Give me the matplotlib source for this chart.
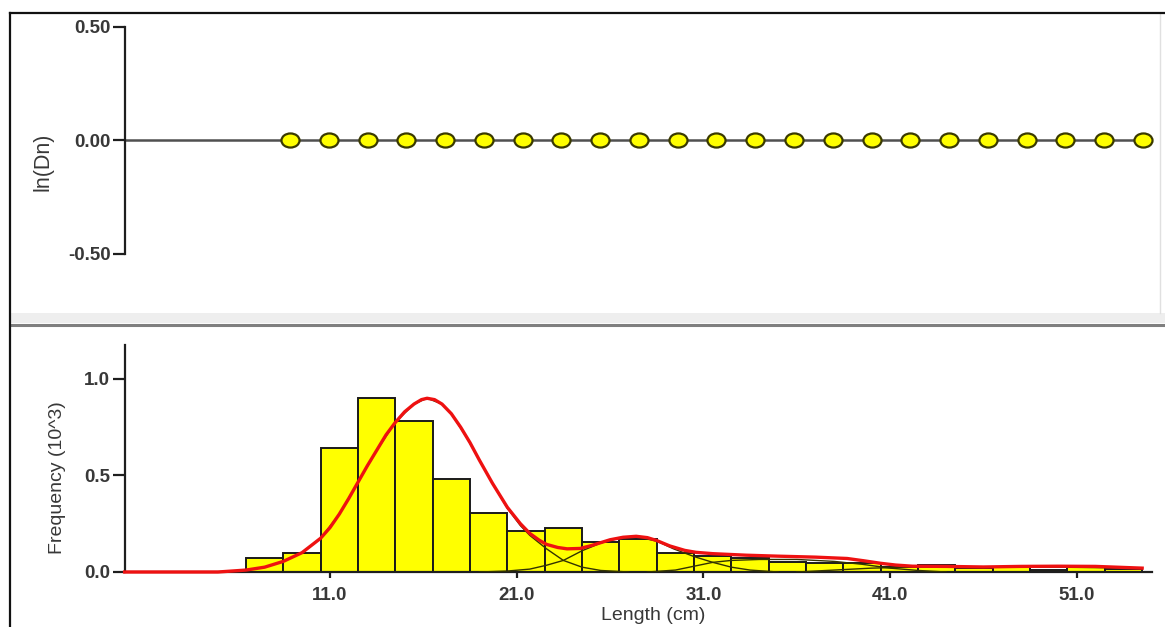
import numpy as np
import matplotlib
matplotlib.use("Agg")
import matplotlib.pyplot as plt
from matplotlib.lines import Line2D
from matplotlib.path import Path
from matplotlib.patches import Rectangle

plt.rcParams['font.family'] = ['Liberation Sans', 'DejaVu Sans']

# ---------------- data ----------------
# histogram: length class mid-points (cm) and frequency (10^3)
length_mid = [7.5, 9.5, 11.5, 13.5, 15.5, 17.5, 19.5, 21.5, 23.5, 25.5, 27.5, 29.5,
              31.5, 33.5, 35.5, 37.5, 39.5, 41.5, 43.5, 45.5, 47.5, 49.5, 51.5, 53.5]
freq = [0.073, 0.10, 0.64, 0.90, 0.78, 0.48, 0.305, 0.21, 0.23, 0.155, 0.17, 0.10,
        0.085, 0.07, 0.05, 0.045, 0.045, 0.025, 0.035, 0.02, 0.025, 0.01, 0.025, 0.015]

# fitted total curve (red)
fit_len = [0.0, 5.0, 6.5, 7.5, 8.5, 9.5, 10.5, 11.0, 11.5, 12.0, 12.5, 13.0, 13.5, 14.0,
           14.5, 15.0, 15.5, 15.9, 16.2, 16.6, 17.0, 17.5, 18.0, 18.5, 19.0, 19.7, 20.5,
           21.2, 21.7, 22.2, 22.6, 23.2, 23.7, 24.4, 25.0, 25.5, 26.0, 26.7, 27.4, 28.0,
           28.5, 29.2, 30.0, 30.6, 31.5, 33.3, 35.0, 37.0, 38.7, 39.6, 40.5, 41.3, 42.2,
           44.0, 46.0, 48.0, 50.0, 52.0, 54.5]
fit_total = [0.0, 0.0, 0.01, 0.025, 0.055, 0.10, 0.175, 0.23, 0.30, 0.38, 0.465, 0.55,
             0.63, 0.71, 0.775, 0.83, 0.87, 0.893, 0.90, 0.893, 0.87, 0.82, 0.75, 0.67,
             0.58, 0.46, 0.335, 0.25, 0.20, 0.165, 0.143, 0.127, 0.12, 0.122, 0.137, 0.152,
             0.167, 0.18, 0.185, 0.178, 0.163, 0.135, 0.112, 0.102, 0.095, 0.087, 0.082,
             0.077, 0.07, 0.058, 0.045, 0.036, 0.03, 0.029, 0.026, 0.029, 0.03, 0.029,
             0.02]

# individual components (thin black)
comp1_len = [5.0, 6.5, 7.5, 8.5, 9.5, 10.5, 11.5, 12.5, 13.5, 14.5, 15.5, 16.2, 17.0, 17.5,
             18.3, 19.0, 19.7, 20.5, 21.2, 21.7, 22.6, 23.5, 24.5, 25.5, 27.0]
comp1_val = [0.0, 0.01, 0.025, 0.055, 0.10, 0.175, 0.30, 0.465, 0.63, 0.775, 0.87, 0.90,
             0.87, 0.82, 0.70, 0.58, 0.46, 0.33, 0.24, 0.19, 0.12, 0.06, 0.025, 0.008, 0.0]
comp2_len = [19.0, 20.5, 21.7, 22.6, 23.5, 24.5, 25.5, 26.5, 27.4, 28.5, 29.4, 30.5, 31.5,
             32.5, 33.5, 35.0]
comp2_val = [0.0, 0.005, 0.015, 0.035, 0.06, 0.11, 0.15, 0.175, 0.183, 0.16, 0.12, 0.08,
             0.05, 0.025, 0.01, 0.0]
comp3_len = [28.0, 29.5, 30.5, 31.5, 32.5, 34.0, 36.0, 38.0, 39.5, 41.0, 42.5, 44.0]
comp3_val = [0.0, 0.01, 0.03, 0.05, 0.06, 0.065, 0.065, 0.055, 0.04, 0.02, 0.008, 0.0]
comp4_len = [36.0, 38.0, 40.0, 42.0, 46.0, 50.0, 54.5]
comp4_val = [0.0, 0.01, 0.02, 0.025, 0.025, 0.025, 0.02]

# upper panel: ln(Dn) per length class
dn_len = [9.5, 11.5, 13.5, 15.5, 17.5, 19.5, 21.5, 23.5, 25.5, 27.5, 29.5, 31.5,
          33.5, 35.5, 37.5, 39.5, 41.5, 43.5, 45.5, 47.5, 49.5, 51.5, 53.5]
ln_dn = [0.0, 0.0, 0.0, 0.0, 0.0, 0.0, 0.0, 0.0, 0.0, 0.0, 0.0, 0.0,
         0.0, 0.0, 0.0, 0.0, 0.0, 0.0, 0.0, 0.0, 0.0, 0.0, 0.0]

top_yticks = [-0.5, 0.0, 0.5]
top_ylabels = ['-0.50', '0.00', '0.50']
bot_yticks = [0.0, 0.5, 1.0]
bot_ylabels = ['0.0', '0.5', '1.0']
bot_xticks = [11, 21, 31, 41, 51]
bot_xlabels = ['11.0', '21.0', '31.0', '41.0', '51.0']

# ---------------- figure ----------------
W, H = 1165, 627
fig = plt.figure(figsize=(W / 100, H / 100), dpi=100)
fig.patch.set_facecolor('white')


def fx(px):
    return px / W


def fy(py):
    return 1 - py / H


txt_col = '#383838'
tick_fs = 13.5

# --- upper panel ---
ax1 = fig.add_axes([fx(125.2), fy(254), (1152.7 - 125.2) / W, 227 / H])
ax1.set_xlim(1, 54)
ax1.set_ylim(-0.5, 0.5)
for s in ['top', 'right', 'bottom']:
    ax1.spines[s].set_visible(False)
ax1.spines['left'].set_linewidth(1.6)
ax1.spines['left'].set_color('#1e1e1e')
ax1.set_xticks([])
ax1.set_yticks(top_yticks)
ax1.set_yticklabels(top_ylabels)
ax1.tick_params(axis='y', length=8.6, width=1.6, color='#1e1e1e', pad=2,
                labelsize=tick_fs, labelcolor=txt_col)
for lab in ax1.get_yticklabels():
    lab.set_fontweight('bold')

ax1.hlines(0, ax1.get_xlim()[0], dn_len[-1], color='#505050', lw=1.8, zorder=2)
circ = Path.unit_circle()
ell = Path(circ.vertices * np.array([1.0, 0.78]), circ.codes)
ax1.plot(dn_len, ln_dn, linestyle='none', marker=ell, markersize=13,
         markerfacecolor='#ffff00', markeredgecolor='#3a3a00', markeredgewidth=1.6,
         zorder=3, clip_on=False)

# --- lower panel ---
ax2 = fig.add_axes([fx(124.6), fy(572), (1151.5 - 124.6) / W, 227 / H])
ax2.set_xlim(0, 55)
ax2.set_ylim(0, 1.176)
for s in ['top', 'right']:
    ax2.spines[s].set_visible(False)
for s in ['left', 'bottom']:
    ax2.spines[s].set_linewidth(1.6)
    ax2.spines[s].set_color('#1e1e1e')

ax2.bar(length_mid, freq, width=2.0, color='#ffff00', edgecolor='#1a1a1a',
        linewidth=1.4, zorder=2)
for cl, cv in [(comp1_len, comp1_val), (comp2_len, comp2_val),
               (comp3_len, comp3_val), (comp4_len, comp4_val)]:
    ax2.plot(cl, cv, color='#333300', lw=1.0, zorder=3)
ax2.plot(fit_len, fit_total, color='#ee1111', lw=2.4, zorder=4, clip_on=False,
         solid_joinstyle='round')

ax2.set_yticks(bot_yticks)
ax2.set_yticklabels(bot_ylabels)
ax2.set_xticks(bot_xticks)
ax2.set_xticklabels(bot_xlabels)
ax2.tick_params(axis='y', length=8.6, width=1.6, color='#1e1e1e', pad=2,
                labelsize=tick_fs, labelcolor=txt_col)
ax2.tick_params(axis='x', length=4.5, width=1.6, color='#1e1e1e', pad=6,
                labelsize=tick_fs, labelcolor=txt_col)
for lab in ax2.get_yticklabels() + ax2.get_xticklabels():
    lab.set_fontweight('bold')

# --- labels ---
fig.text(fx(43), fy(162), 'ln(Dn)', rotation=90, ha='center', va='center',
         fontsize=15.5, color=txt_col)
fig.text(fx(58), fy(478), 'Frequency (10^3)', rotation=90, ha='center', va='center',
         fontsize=14, color=txt_col)
fig.text(fx(653), fy(616), 'Length (cm)', ha='center', va='center',
         fontsize=14, color=txt_col)

# --- window frame / separator ---
fig.add_artist(Rectangle((fx(11), fy(323)), 1 - fx(11), (323 - 313) / H,
                         transform=fig.transFigure, facecolor='#eeeeee',
                         edgecolor='none', zorder=0))
fig.add_artist(Line2D([fx(11), 1], [fy(325), fy(325)], color='#7f7f7f', lw=2.2,
                      transform=fig.transFigure))
fig.add_artist(Line2D([fx(1160), fx(1160)], [fy(13), fy(313)], color='#e0e0e0', lw=1.0,
                      transform=fig.transFigure))
fig.add_artist(Line2D([fx(10), fx(10)], [fy(13), 0], color='#111111', lw=1.6,
                      transform=fig.transFigure))
fig.add_artist(Line2D([fx(10), 1], [fy(13), fy(13)], color='#111111', lw=1.6,
                      transform=fig.transFigure))

fig.savefig('out.png', dpi=100, facecolor='white')
